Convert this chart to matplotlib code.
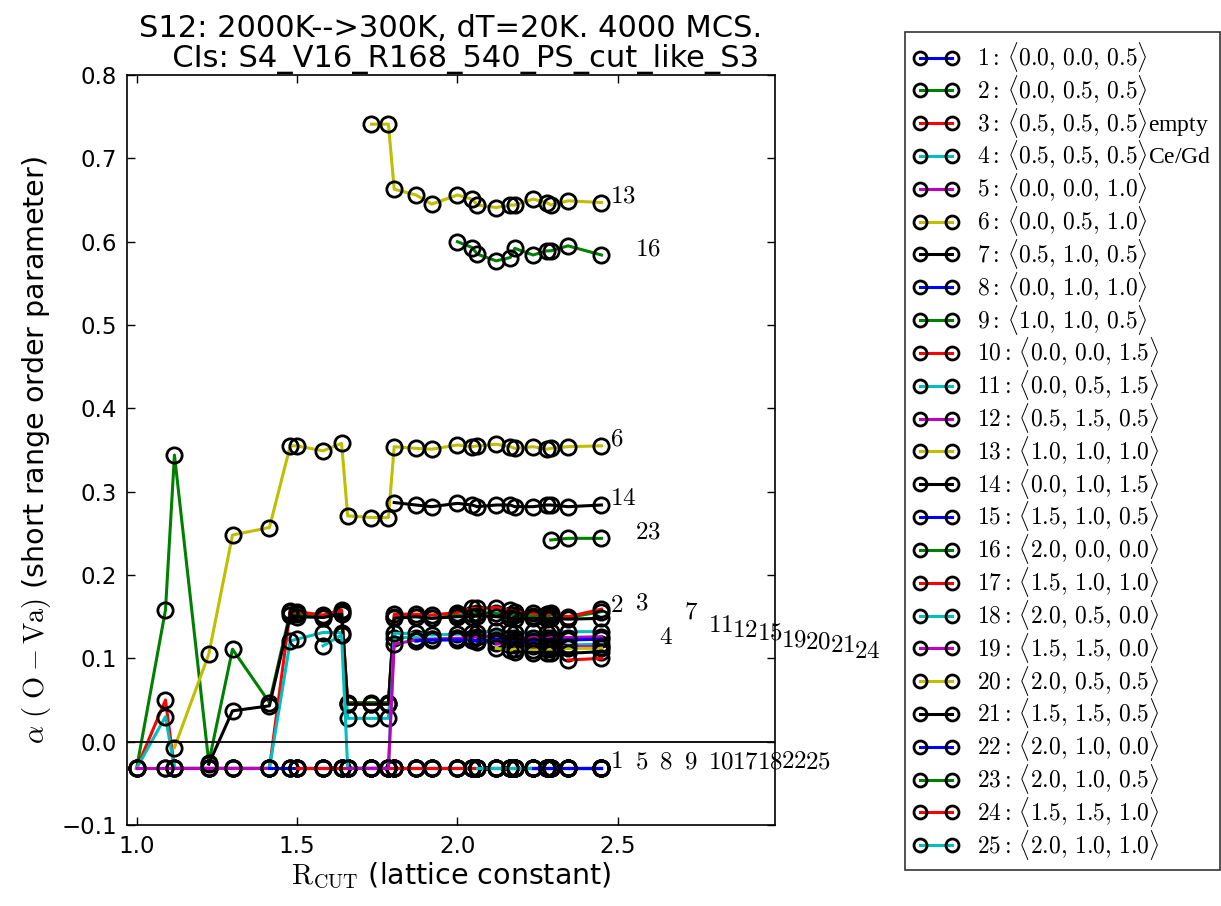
"""Short range order alpha(O-Va) versus cutoff radius for the S12 anneal."""

import matplotlib
matplotlib.use("Agg")
import matplotlib.pyplot as plt
import numpy as np

plt.rcParams["mathtext.fontset"] = "cm"
plt.rcParams["font.family"] = ["DejaVu Sans"]

# cutoff radii of the cluster expansions (lattice constant units)
R_CUT = [1.000, 1.090, 1.118, 1.225, 1.299, 1.414, 1.479, 1.500, 1.581, 1.639, 1.658,
         1.732, 1.785, 1.803, 1.871, 1.920, 2.000, 2.046, 2.062, 2.121, 2.165, 2.179,
         2.236, 2.278, 2.291, 2.345, 2.449]

# O-Va pair vectors and extra tags
PAIRS = [(0.0, 0.0, 0.5), (0.0, 0.5, 0.5), (0.5, 0.5, 0.5), (0.5, 0.5, 0.5), (0.0, 0.0, 1.0),
         (0.0, 0.5, 1.0), (0.5, 1.0, 0.5), (0.0, 1.0, 1.0), (1.0, 1.0, 0.5), (0.0, 0.0, 1.5),
         (0.0, 0.5, 1.5), (0.5, 1.5, 0.5), (1.0, 1.0, 1.0), (0.0, 1.0, 1.5), (1.5, 1.0, 0.5),
         (2.0, 0.0, 0.0), (1.5, 1.0, 1.0), (2.0, 0.5, 0.0), (1.5, 1.5, 0.0), (2.0, 0.5, 0.5),
         (1.5, 1.5, 0.5), (2.0, 1.0, 0.0), (2.0, 1.0, 0.5), (1.5, 1.5, 1.0), (2.0, 1.0, 1.0)]
TAGS = ["", "", "empty", "Ce/Gd"] + [""] * 21

# alpha per pair; each list covers the last len(list) cutoff radii
A1 = [-0.032, -0.032, -0.032, -0.032, -0.032, -0.032, -0.032, -0.032, -0.032, -0.032, -0.032,
      -0.032, -0.032, -0.032, -0.032, -0.032, -0.032, -0.032, -0.032, -0.032, -0.032, -0.032,
      -0.032, -0.032, -0.032, -0.032, -0.032]
A2 = [-0.032, 0.158, 0.344, -0.025, 0.111, 0.047, 0.156, 0.153, 0.150, 0.156, 0.047,
      0.047, 0.047, 0.150, 0.150, 0.148, 0.152, 0.153, 0.155, 0.154, 0.152, 0.152,
      0.151, 0.150, 0.152, 0.149, 0.156]
A3 = [-0.032, 0.050, -0.032, -0.032, -0.032, -0.032, 0.157, 0.156, 0.152, 0.158, 0.045,
      0.045, 0.045, 0.153, 0.153, 0.152, 0.155, 0.160, 0.160, 0.161, 0.158, 0.156,
      0.154, 0.153, 0.154, 0.150, 0.159]
A4 = [-0.032, 0.030, -0.032, -0.032, -0.032, -0.032, 0.121, 0.123, 0.131, 0.131, 0.028,
      0.028, 0.028, 0.125, 0.125, 0.123, 0.124, 0.122, 0.120, 0.121, 0.118, 0.119,
      0.118, 0.117, 0.118, 0.116, 0.117]
A5 = [-0.032, -0.032, -0.032, -0.032, -0.032, -0.032, -0.032, -0.032, -0.032, -0.032, -0.032,
      -0.032, -0.032, -0.032, -0.032, -0.032, -0.032, -0.032, -0.032, -0.032, -0.032, -0.032,
      -0.032, -0.032, -0.032, -0.032, -0.032]
A6 = [-0.007, 0.105, 0.248, 0.257, 0.355, 0.355, 0.349, 0.358, 0.271,
      0.269, 0.269, 0.354, 0.352, 0.351, 0.356, 0.354, 0.355, 0.357, 0.354, 0.352,
      0.354, 0.351, 0.352, 0.354, 0.355]
A7 = [-0.027, 0.037, 0.043, 0.152, 0.150, 0.149, 0.153, 0.045,
      0.045, 0.045, 0.148, 0.150, 0.148, 0.150, 0.150, 0.151, 0.150, 0.148, 0.147,
      0.148, 0.147, 0.148, 0.147, 0.148]
A8 = [-0.032, -0.032, -0.032, -0.032, -0.032, -0.032, -0.032, -0.032, -0.032, -0.032, -0.032,
      -0.032, -0.032, -0.032, -0.032, -0.032, -0.032, -0.032, -0.032, -0.032, -0.032, -0.032]
A9 = [-0.032, -0.032, -0.032, -0.032, -0.032, -0.032, -0.032, -0.032, -0.032, -0.032,
      -0.032, -0.032, -0.032, -0.032, -0.032, -0.032, -0.032, -0.032, -0.032, -0.032]
A10 = [-0.032, -0.032, -0.032, -0.032, -0.032, -0.032, -0.032, -0.032, -0.032, -0.032,
       -0.032, -0.032, -0.032, -0.032, -0.032, -0.032, -0.032, -0.032, -0.032, -0.032]
A11 = [0.115, 0.128, -0.032, -0.032, -0.032, 0.130, 0.130, 0.128, 0.129, 0.130, 0.131,
       0.133, 0.132, 0.131, 0.132, 0.131, 0.132, 0.132, 0.132]
A12 = [-0.032, -0.032, -0.032, 0.117, 0.122, 0.123, 0.124, 0.125, 0.126, 0.127, 0.125,
       0.124, 0.125, 0.124, 0.125, 0.125, 0.126]
A13 = [0.741, 0.741, 0.663, 0.656, 0.645, 0.656, 0.651, 0.644, 0.641, 0.644, 0.644,
       0.651, 0.647, 0.644, 0.649, 0.647]
A14 = [0.287, 0.284, 0.282, 0.286, 0.284, 0.282, 0.284, 0.284, 0.282, 0.282, 0.284,
       0.284, 0.282, 0.284]
A15 = [0.121, 0.122, 0.122, 0.122, 0.121, 0.122, 0.120, 0.121, 0.121, 0.122, 0.122,
       0.122, 0.123]
A16 = [0.600, 0.593, 0.585, 0.577, 0.581, 0.592, 0.584, 0.589, 0.589, 0.595, 0.584]
A17 = [-0.032, -0.032, -0.032, -0.032, -0.032, -0.032, -0.032, -0.032, -0.032]
A18 = [-0.032, -0.032, -0.032, -0.032, -0.032, -0.032, -0.032, -0.032, -0.032]
A19 = [0.118, 0.116, 0.116, 0.115, 0.114, 0.115, 0.114, 0.114]
A20 = [0.112, 0.110, 0.111, 0.110, 0.111, 0.111, 0.112, 0.112]
A21 = [0.108, 0.107, 0.107, 0.107, 0.106, 0.108]
A22 = [-0.032, -0.032, -0.032, -0.032, -0.032]
A23 = [0.242, 0.244, 0.244]
A24 = [0.098, 0.100]
A25 = [-0.032]

ALPHA = [A1, A2, A3, A4, A5, A6, A7, A8, A9, A10, A11, A12, A13, A14, A15, A16, A17,
         A18, A19, A20, A21, A22, A23, A24, A25]

# old-style b g r c m y k cycle
COLORS = [(0, 0, 1), (0, 0.5, 0), (1, 0, 0), (0, 0.75, 0.75),
          (0.75, 0, 0.75), (0.75, 0.75, 0), (0, 0, 0)]


def pair_label(n, vec, tag):
    a, b, c = vec
    return (r"$%d{:}\,\langle %.1f,\, %.1f,\, %.1f\rangle$" % (n, a, b, c)) + tag


fig = plt.figure(figsize=(12.21, 9.06), dpi=100)
ax = fig.add_axes([0.104, 0.0894, 0.5307, 0.8278])

r = np.array(R_CUT)
handles, labels = [], []
for i, vals in enumerate(ALPHA):
    ln, = ax.plot(r[-len(vals):], vals, "-o", color=COLORS[i % 7], lw=2.2, ms=11,
                  mfc="none", mec="k", mew=2)
    handles.append(ln)
    labels.append(pair_label(i + 1, PAIRS[i], TAGS[i]))

# pair numbers at the right end, shifted sideways when they would collide
x0, dx, tol = r[-1] + 0.028, 0.076, 0.067
placed = []
for i, vals in enumerate(ALPHA):
    y = vals[-1]
    slot = 0
    while any(s == slot and abs(yy - y) < tol for s, yy in placed):
        slot += 1
    placed.append((slot, y))
    ax.text(x0 + slot * dx, y, r"$%d$" % (i + 1), fontsize=18, clip_on=False)

ax.axhline(0.0, color="k", lw=1.3)
ax.set_xlim(0.97, 2.99)
ax.set_ylim(-0.1, 0.8)
ax.set_xticks([1.0, 1.5, 2.0, 2.5])
ax.set_yticks(np.arange(-0.1, 0.81, 0.1))
ax.tick_params(direction="in", top=True, right=True, length=6, width=1,
               labelsize=16.5, pad=7)
for sp in ax.spines.values():
    sp.set_linewidth(1.2)

ax.set_xlabel(r"$\mathrm{R_{CUT}}$ (lattice constant)", fontsize=20.5, labelpad=2)
ax.set_ylabel(r"$\alpha\ (\ \mathrm{O-Va})$ (short range order parameter)", fontsize=20.5,
              labelpad=6)
ax.set_title("S12: 2000K-->300K, dT=20K. 4000 MCS.\n"
             "   CIs: S4_V16_R168_540_PS_cut_like_S3", fontsize=22, pad=6,
             linespacing=1.05)

leg = ax.legend(handles, labels, loc="upper left", bbox_to_anchor=(0.741, 0.965),
                bbox_transform=fig.transFigure, numpoints=2, fancybox=False,
                borderaxespad=0, handlelength=1.95, handletextpad=0.75,
                labelspacing=-0.05, markerscale=0.85, borderpad=0.35,
                prop={"family": "Liberation Serif", "size": 17})
leg.get_frame().set_edgecolor("k")
leg.get_frame().set_linewidth(1.2)

fig.savefig("out.png", dpi=100)
